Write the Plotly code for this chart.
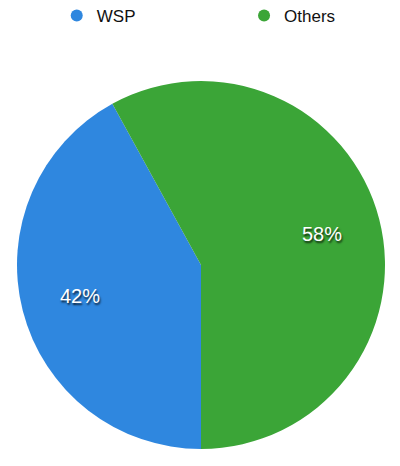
import math
import plotly.graph_objects as go

labels = ["WSP", "Others"]
values = [42, 58]
colors = ["#2f87df", "#3ba537"]

# page is shifted by the browser's body margin, so size the figure to fit
W, H = 392, 458
M_L, M_R, M_T, M_B = 9, 15, 73, 17

fig = go.Figure()

fig.add_trace(go.Pie(
    labels=labels,
    values=values,
    sort=False,
    direction="clockwise",
    rotation=180,
    marker=dict(colors=colors, line=dict(width=0)),
    textinfo="none",
    showlegend=False,
    hoverinfo="label+percent",
))

# percentage labels placed at each slice's mid-angle, further out than plotly's default
total = sum(values)
start = 180.0
label_r = 0.68
for val in values:
    mid = start + 360.0 * val / total / 2
    start += 360.0 * val / total
    ang = math.radians(mid)
    fig.add_annotation(
        x=0.5 + 0.5 * label_r * math.sin(ang),
        y=0.5 + 0.5 * label_r * math.cos(ang),
        xref="paper", yref="paper", showarrow=False,
        xanchor="center", yanchor="middle",
        text=f"{round(100 * val / total)}%",
        font=dict(color="white", size=20, family="Liberation Sans, Arial, sans-serif",
                  shadow="1px 2px 2px rgba(0,0,0,0.75)"),
    )

# circle markers for the legend, one legend box per entry
legend_x = [0.108, 0.617]
for i, (name, col) in enumerate(zip(labels, colors)):
    fig.add_trace(go.Scatter(
        x=[None], y=[None], mode="markers", name=name,
        marker=dict(symbol="circle", size=12, color=col),
        legend="legend" if i == 0 else f"legend{i + 1}",
    ))

leg_style = dict(
    orientation="h",
    xanchor="left",
    yanchor="middle",
    yref="container",
    y=1 - 8 / H,
    bgcolor="rgba(0,0,0,0)",
    font=dict(size=17, color="#111"),
)

fig.update_layout(
    width=W,
    height=H,
    margin=dict(l=M_L, r=M_R, t=M_T, b=M_B),
    paper_bgcolor="white",
    plot_bgcolor="white",
    font=dict(family="Liberation Sans, Arial, sans-serif", size=17, color="#111"),
    xaxis=dict(visible=False),
    yaxis=dict(visible=False),
    legend=dict(x=legend_x[0], **leg_style),
    legend2=dict(x=legend_x[1], **leg_style),
)

fig.write_html("out.html")
